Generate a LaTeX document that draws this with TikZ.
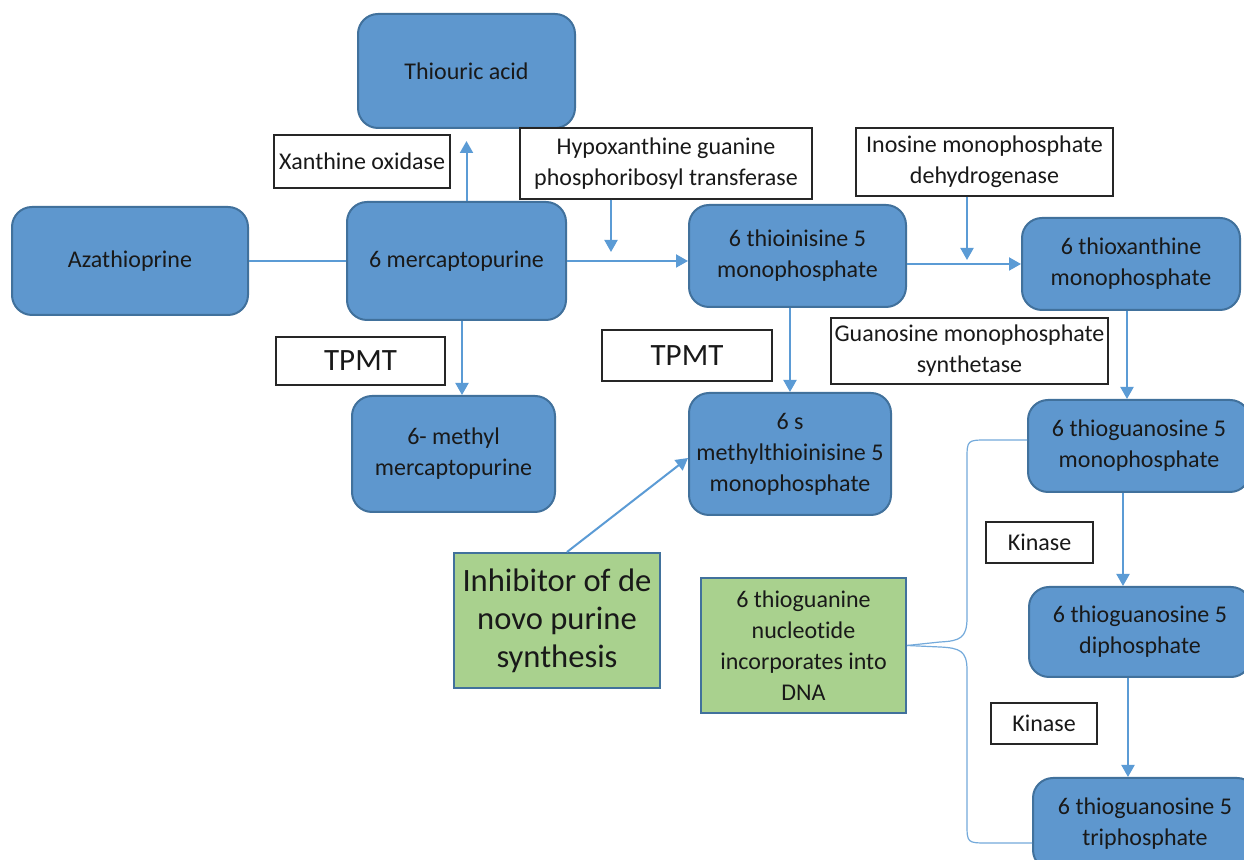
\documentclass[tikz,border=0pt]{standalone}
\usepackage{fontspec}
\setmainfont{Carlito}[Ligatures={NoCommon}]
\usetikzlibrary{arrows.meta,calc}
\definecolor{boxblue}{RGB}{94,151,206}
\definecolor{bordc}{RGB}{65,113,156}
\definecolor{arrc}{RGB}{91,155,213}
\definecolor{greenc}{RGB}{169,209,142}
\definecolor{txt}{RGB}{25,25,25}
\begin{document}
\begin{tikzpicture}[x=0.5pt,y=-0.5pt,
  every node/.style={text=txt},
  norm/.style={font=\fontsize{12}{15.5}\selectfont},
  bluebox/.style={norm,draw=bordc,line width=1pt,fill=boxblue,rounded corners=10pt,align=center,inner sep=0pt},
  lbl/.style={norm,draw=black!85,line width=0.6pt,fill=white,align=center,inner sep=0pt},
  greenbox/.style={draw=bordc,line width=1pt,fill=greenc,align=center,inner sep=0pt},
  arr/.style={draw=arrc,line width=1pt,-{Triangle[length=6pt,width=6.5pt]}},
  plain/.style={draw=arrc,line width=1pt},
  bracel/.style={draw=arrc!85,line width=0.6pt}]
\useasboundingbox (0,0) rectangle (1244,860);
\clip (0,0) rectangle (1244,860);
\fill[white] (0,0) rectangle (1244,860);

% blue boxes
\node[bluebox,minimum width=108.5pt,minimum height=57pt] (thio) at (466.5,71) {Thiouric acid};
\node[bluebox,minimum width=118pt,minimum height=54pt] (aza) at (130,261) {Azathioprine};
\node[bluebox,minimum width=109.5pt,minimum height=59pt] (mp) at (456.5,261) {6 mercaptopurine};
\node[bluebox,minimum width=108.5pt,minimum height=51pt] (ti) at (797.5,256) {6 thioinisine 5\\monophosphate};
\node[bluebox,minimum width=109pt,minimum height=46pt] (thiox) at (1131,264) {6 thioxanthine\\monophosphate};
\node[bluebox,minimum width=101.5pt,minimum height=58pt] (meth) at (453.5,454) {6- methyl\\mercaptopurine};
\node[bluebox,minimum width=101pt,minimum height=61pt] (sm) at (790,454) {6 s\\methylthioinisine 5\\monophosphate};
\node[bluebox,minimum width=111pt,minimum height=46pt] (mono) at (1139,446) {6 thioguanosine 5\\monophosphate};
\node[bluebox,minimum width=111pt,minimum height=45pt] (di) at (1140,632) {6 thioguanosine 5\\diphosphate};
\node[bluebox,minimum width=112pt,minimum height=46pt] (tri) at (1145,824) {6 thioguanosine 5\\triphosphate};

% green boxes
\node[greenbox,minimum width=103pt,minimum height=67.5pt,font=\fontsize{16.3}{19}\selectfont] (inh) at (557,620.5) {Inhibitor of de\\novo purine\\synthesis};
\node[greenbox,norm,minimum width=102.5pt,minimum height=67.5pt] (dna) at (803.5,645.5) {6 thioguanine\\nucleotide\\incorporates into\\DNA};

% label boxes
\node[lbl,minimum width=88pt,minimum height=26.5pt] (xo) at (362,161.5) {Xanthine oxidase};
\node[lbl,minimum width=146pt,minimum height=35.5pt] (hgprt) at (666,163.5) {Hypoxanthine guanine\\phosphoribosyl transferase};
\node[lbl,minimum width=128.5pt,minimum height=34pt] (impdh) at (984.5,162) {Inosine monophosphate\\dehydrogenase};
\node[lbl,minimum width=84.5pt,minimum height=24pt,font=\fontsize{15.5}{18}\selectfont] (tpmt1) at (360.5,361) {TPMT};
\node[lbl,minimum width=85pt,minimum height=25.5pt,font=\fontsize{15.5}{18}\selectfont] (tpmt2) at (687,355.5) {TPMT};
\node[lbl,minimum width=138.5pt,minimum height=33pt] (gmps) at (969.5,351) {Guanosine monophosphate\\synthetase};
\node[lbl,minimum width=53.5pt,minimum height=20.5pt] (kin1) at (1039.5,542.5) {Kinase};
\node[lbl,minimum width=53pt,minimum height=20.5pt] (kin2) at (1044,723.5) {Kinase};

% helper coordinates
\coordinate (xa) at (462,0);
\coordinate (h1) at (611,252);
\coordinate (i1) at (967,260);
\coordinate (xb) at (1127,0);
\coordinate (xc) at (1123,0);
\coordinate (xd) at (1128,0);

% connectors
\draw[plain] (aza.east) -- (mp.west);
\draw[arr,shorten >=6pt] (mp.north -| thio.south) -- (thio.south);
\draw[arr] (mp.south -| xa) -- (meth.north -| xa);
\draw[arr] (mp.east) -- (mp.east -| ti.west);
\draw[arr] (hgprt.south -| h1) -- (h1);
\draw[arr] (ti.east |- thiox.west) -- (thiox.west);
\draw[arr] (impdh.south -| i1) -- (i1);
\draw[arr] (ti.south -| sm.north) -- (sm.north);
\draw[arr] (thiox.south -| xb) -- (mono.north -| xb);
\draw[arr] (mono.south -| xc) -- (di.north -| xc);
\draw[arr] (di.south -| xd) -- (tri.north -| xd);
\draw[arr] ([xshift=5pt]inh.north) -- ([yshift=-2pt]sm.west);

% brace
\draw[bracel] ([yshift=3pt]mono.west) -- (988,440) .. controls (967,440) and (967,440) .. (967,460) -- (967,618) .. controls (967,638) and (960,641) .. (940,642) -- (dna.east);
\draw[bracel] (dna.east) -- (940,647) .. controls (960,648) and (967,651) .. (967,670) -- (967,823) .. controls (967,843) and (967,843) .. (988,843) -- ([yshift=-9.5pt]tri.west);
\end{tikzpicture}
\end{document}
